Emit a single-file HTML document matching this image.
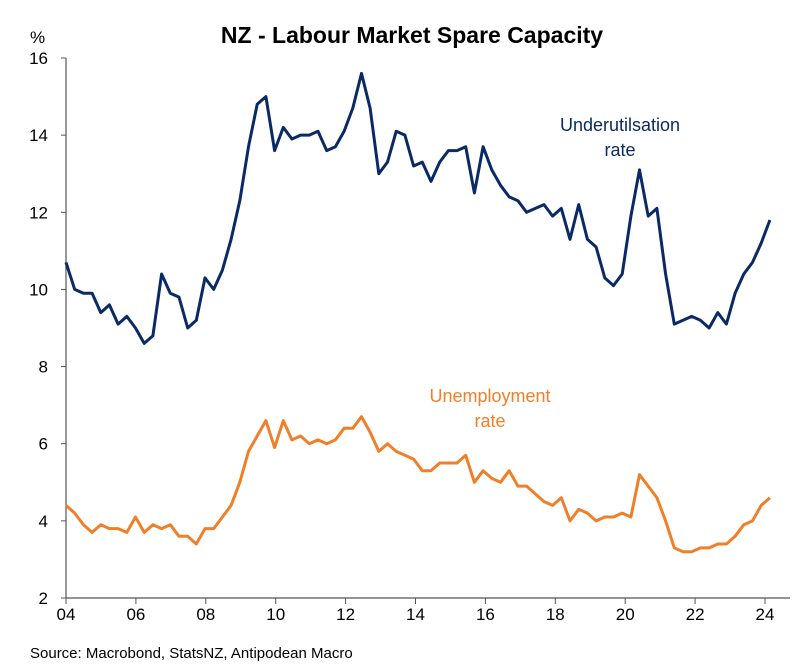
<!DOCTYPE html>
<html><head><meta charset="utf-8"><style>
body{margin:0;background:#fff;}
svg{display:block;font-family:"Liberation Sans",Arial,sans-serif;}
</style></head><body>
<svg width="792" height="672" viewBox="0 0 792 672">
<text x="412" y="43" text-anchor="middle" font-size="23" font-weight="bold" fill="#000">NZ - Labour Market Spare Capacity</text>
<text x="30" y="43" font-size="17" fill="#000">%</text>
<g id="axes"></g>
<g id="series"></g>
<text x="620" y="131" text-anchor="middle" font-size="18" fill="#0a2a66">Underutilsation</text>
<text x="620" y="156" text-anchor="middle" font-size="18" fill="#0a2a66">rate</text>
<text x="490" y="402" text-anchor="middle" font-size="18" fill="#f07f2a">Unemployment</text>
<text x="490" y="427" text-anchor="middle" font-size="18" fill="#f07f2a">rate</text>
<text x="30" y="658" font-size="15" fill="#000">Source: Macrobond, StatsNZ, Antipodean Macro</text>
</svg>
<script>
const yTicks=[2,4,6,8,10,12,14,16];
const xTickLabels=["04","06","08","10","12","14","16","18","20","22","24"];
const underutilisation=[10.7,10.0,9.9,9.9, 9.4,9.6,9.1,9.3, 9.0,8.6,8.8,10.4, 9.9,9.8,9.0,9.2, 10.3,10.0,10.5,11.3, 12.3,13.7,14.8,15.0, 13.6,14.2,13.9,14.0, 14.0,14.1,13.6,13.7, 14.1,14.7,15.6,14.7, 13.0,13.3,14.1,14.0, 13.2,13.3,12.8,13.3, 13.6,13.6,13.7,12.5, 13.7,13.1,12.7,12.4, 12.3,12.0,12.1,12.2, 11.9,12.1,11.3,12.2, 11.3,11.1,10.3,10.1, 10.4,11.9,13.1,11.9, 12.1,10.4,9.1,9.2, 9.3,9.2,9.0,9.4, 9.1,9.9,10.4,10.7, 11.2,11.8];
const unemployment=[4.4,4.2,3.9,3.7, 3.9,3.8,3.8,3.7, 4.1,3.7,3.9,3.8, 3.9,3.6,3.6,3.4, 3.8,3.8,4.1,4.4, 5.0,5.8,6.2,6.6, 5.9,6.6,6.1,6.2, 6.0,6.1,6.0,6.1, 6.4,6.4,6.7,6.3, 5.8,6.0,5.8,5.7, 5.6,5.3,5.3,5.5, 5.5,5.5,5.7,5.0, 5.3,5.1,5.0,5.3, 4.9,4.9,4.7,4.5, 4.4,4.6,4.0,4.3, 4.2,4.0,4.1,4.1, 4.2,4.1,5.2,4.9, 4.6,4.0,3.3,3.2, 3.2,3.3,3.3,3.4, 3.4,3.6,3.9,4.0, 4.4,4.6];
const startYear=2004;
const NS="http://www.w3.org/2000/svg";
function xq(i){return 66+i*8.69;}
function xYear(y){return 66+(y-startYear)*(699/20);}
function yv(v){return 598-(v-2)*(540/14);}
function mk(tag,attrs,parent){const e=document.createElementNS(NS,tag);for(const k in attrs)e.setAttribute(k,attrs[k]);parent.appendChild(e);return e;}
const axes=document.getElementById('axes');
let a=mk('line',{x1:66,y1:58,x2:66,y2:598,stroke:'#555','stroke-width':1.2},axes);


a=mk('line',{x1:66,y1:598,x2:790,y2:598,stroke:'#555','stroke-width':1.2},axes);


yTicks.forEach(v=>{
 const t=mk('line',{x1:61,y1:yv(v),x2:66,y2:yv(v),stroke:'#555'},axes);
 
 
 const l=mk('text',{x:48,y:yv(v)+6,'text-anchor':'end','font-size':17,fill:'#000'},axes);
 l.textContent=v;
 
 
});
xTickLabels.forEach((s,i)=>{
 const x=xYear(startYear+i*2);
 const t=mk('line',{x1:x,y1:598,x2:x,y2:604,stroke:'#555'},axes);
 
 
 const l=mk('text',{x:x,y:620,'text-anchor':'middle','font-size':17,fill:'#000'},axes);
 l.textContent=s;
 
 
});
const ser=document.getElementById('series');
function line(data,color,name){
 const p=mk('polyline',{points:data.map((v,i)=>xq(i).toFixed(1)+','+yv(v).toFixed(1)).join(' '),fill:'none',stroke:color,'stroke-width':3,'stroke-linejoin':'round'},ser);
 
 
}
line(underutilisation,'#0a2a66','underutilisation-line');
line(unemployment,'#f07f2a','unemployment-line');
</script>
</body></html>
